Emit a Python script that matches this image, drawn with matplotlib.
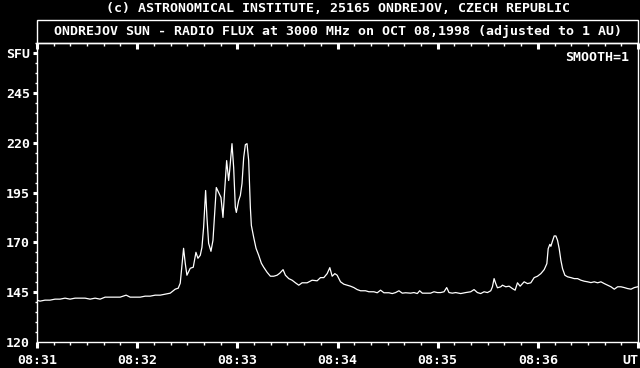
import numpy as np
import matplotlib.pyplot as plt
from matplotlib.patches import Rectangle
from matplotlib.ticker import MultipleLocator

# seconds after 08:31:00 UT and radio flux (SFU)
sec = [0, 1.8, 4.8, 7.8, 10.8, 13.8, 16.8, 19.8, 22.8, 25.8, 28.8, 31.8, 34.8, 37.8,
       40.8, 43.8, 46.8, 49.8, 53.4, 55.8, 58.8, 61.8, 64.8, 67.8, 70.8, 73.8, 76.8, 79.8,
       82.8, 84.6, 85.8, 87.8, 88.8, 89.8, 91.8, 93.6, 95.2, 96.4, 97.8, 98.8, 99.8,
       101.0, 101.8, 102.8, 104.2, 105.4, 106.4, 107.4, 108.8, 110.2, 111.4, 112.4,
       113.6, 114.8, 115.4, 116.8, 117.8, 118.8, 119.4, 120.8, 121.8, 122.8, 123.8,
       124.8, 125.8, 126.8, 127.8, 128.4, 129.8, 131.2, 132.8, 134.4, 135.8, 137.8,
       139.8, 141.8, 143.8, 145.4, 147.4, 148.8, 150.8, 152.8, 154.8, 156.8, 158.8,
       161.8, 164.8, 167.8, 169.8, 171.8, 173.8, 175.4, 176.8, 178.4, 179.8, 181.8,
       183.8, 185.8, 187.8, 189.8, 191.8, 193.8, 196.8, 198.8, 201.8, 203.8, 205.8,
       207.8, 210.8, 212.8, 214.8, 216.8, 218.8, 220.8, 223.8, 225.8, 227.8, 229.2,
       230.8, 232.8, 235.8, 237.8, 239.8, 241.8, 243.8, 245.4, 246.8, 248.8, 250.8,
       253.8, 256.8, 259.8, 261.8, 263.8, 265.8, 267.8, 269.8, 271.8, 272.8, 273.8,
       274.8, 275.8, 277.8, 278.8, 280.8, 282.8, 284.8, 286.4, 287.8, 289.4, 291.8,
       293.8, 295.8, 297.8, 299.8, 301.8, 303.8, 305.4, 306.2, 307.2, 307.8, 308.8,
       309.8, 310.8, 311.8, 312.8, 313.8, 314.8, 316.2, 317.8, 319.8, 321.8, 323.8,
       325.8, 327.8, 329.8, 331.8, 333.8, 335.8, 337.8, 339.8, 341.8, 343.8, 345.8,
       347.8, 349.8, 351.8, 353.8, 355.8, 357.8, 359.8]
flux = [141, 140.5, 141, 141, 141.5, 141.5, 142, 141.5, 142, 142, 142, 141.5, 142, 141.5,
        142.5, 142.5, 142.5, 142.5, 143.5, 142.5, 142.5, 142.5, 143, 143, 143.5, 143.5, 144, 144.5,
        146.5, 147, 149.5, 167, 159.5, 153.5, 157, 157.5, 165, 162, 163.5, 167.5, 177.5,
        196, 182.5, 169.5, 165.5, 171, 184.5, 197.5, 195, 192.5, 182.5, 196,
        211, 201, 206, 219.5, 207.5, 187.5, 185, 191, 193.5, 199.5, 212.5,
        219, 219.5, 211, 187.5, 178.5, 172.5, 167, 163.5, 159.5, 157.5, 155,
        153, 153, 153.5, 154.5, 156.3, 153.5, 151.8, 151, 149.7, 148.5, 149.7,
        149.7, 151, 150.7, 152.3, 152.3, 154.3, 157.3, 153, 154.3, 153.5, 150.2,
        149, 148.5, 148, 147.3, 146.3, 145.7, 145.7, 145.2, 145.2, 144.7, 146,
        144.7, 144.7, 144.3, 144.8, 145.7, 144.5, 144.7, 144.5, 144.8, 144.3, 145.7,
        144.5, 144.5, 144.5, 145.2, 144.8, 144.8, 145.2, 147.3, 144.8, 144.5, 144.8,
        144.3, 144.8, 145.2, 146.3, 144.8, 144.3, 145.2, 144.8, 145.7, 147.7, 151.8,
        149.3, 147.2, 147.7, 148.5, 147.7, 148, 146.8, 146, 149.7, 148, 150.2,
        149.3, 149.7, 152.3, 153, 154.3, 156.3, 159.3, 166.8, 169, 168, 170.7,
        173.2, 173.2, 171, 166.8, 161, 156.8, 153.5, 152.7, 152.3, 151.8, 151.8,
        151, 150.5, 150.2, 149.8, 150.2, 149.7, 150.2, 149.3, 148.5, 147.7, 146.5,
        147.7, 147.7, 147.3, 146.8, 146.5, 147.3, 147.7]

x_tick_sec = [0, 60, 120, 180, 240, 300, 360]
x_tick_labels = ['08:31', '08:32', '08:33', '08:34', '08:35', '08:36', 'UT']
y_tick_vals = [120, 145, 170, 195, 220, 245, 265]
y_tick_labels = ['120', '145', '170', '195', '220', '245', 'SFU']

header = '(c) ASTRONOMICAL INSTITUTE, 25165 ONDREJOV, CZECH REPUBLIC'
title = 'ONDREJOV SUN - RADIO FLUX at 3000 MHz on OCT 08,1998 (adjusted to 1 AU)'

W, H = 640, 368
plt.rcParams['font.family'] = ['DejaVu Sans Mono']
plt.rcParams['font.weight'] = 'bold'

fig = plt.figure(figsize=(W / 100, H / 100), dpi=100, facecolor='black')
L, R, B, T = 37 / W, 638 / W, 1 - 342 / H, 1 - 43 / H
ax = fig.add_axes([L, B, R - L, T - B], facecolor='black')

ax.plot(sec, flux, color='white', lw=0.9)
ax.set_xlim(0, 360)
ax.set_ylim(120, 270)

for s in ax.spines.values():
    s.set_color('white')
    s.set_linewidth(1)

ax.set_xticks(x_tick_sec)
ax.set_xticklabels(x_tick_labels)
ax.xaxis.set_minor_locator(MultipleLocator(10))
ax.set_yticks(y_tick_vals)
ax.set_yticklabels(y_tick_labels)
ax.yaxis.set_minor_locator(MultipleLocator(5))

ax.tick_params(axis='both', which='both', colors='white', labelsize=9.5)
ax.tick_params(axis='x', which='major', direction='out', length=4, width=2.2, pad=5, top=True)
ax.tick_params(axis='x', which='minor', direction='out', length=2.5, width=1, top=True)
ax.tick_params(axis='y', which='major', direction='out', length=3, width=2.2, pad=2)
ax.tick_params(axis='y', which='minor', direction='out', length=1.5, width=1)
for t in ax.xaxis.get_major_ticks() + ax.xaxis.get_minor_ticks():
    t.tick2line.set_marker(3)  # top ticks point into the plot
ax.get_xticklabels()[-1].set_horizontalalignment('right')
ax.yaxis.get_major_ticks()[0].tick1line.set_visible(False)

# title box above the plot
fig.patches.append(Rectangle((L, T), R - L, 23 / H, transform=fig.transFigure,
                             fill=False, edgecolor='white', lw=1))
fig.text(338 / W, 1 - 8 / H, header, color='white', fontsize=9.5, ha='center', va='center')
fig.text((L + R) / 2, 1 - 32 / H, title, color='white', fontsize=9.5, ha='center', va='center')
ax.text(0.985, 0.95, 'SMOOTH=1', color='white', fontsize=9.5, ha='right', va='center',
        transform=ax.transAxes)

fig.savefig('out.png', dpi=100, facecolor='black')
